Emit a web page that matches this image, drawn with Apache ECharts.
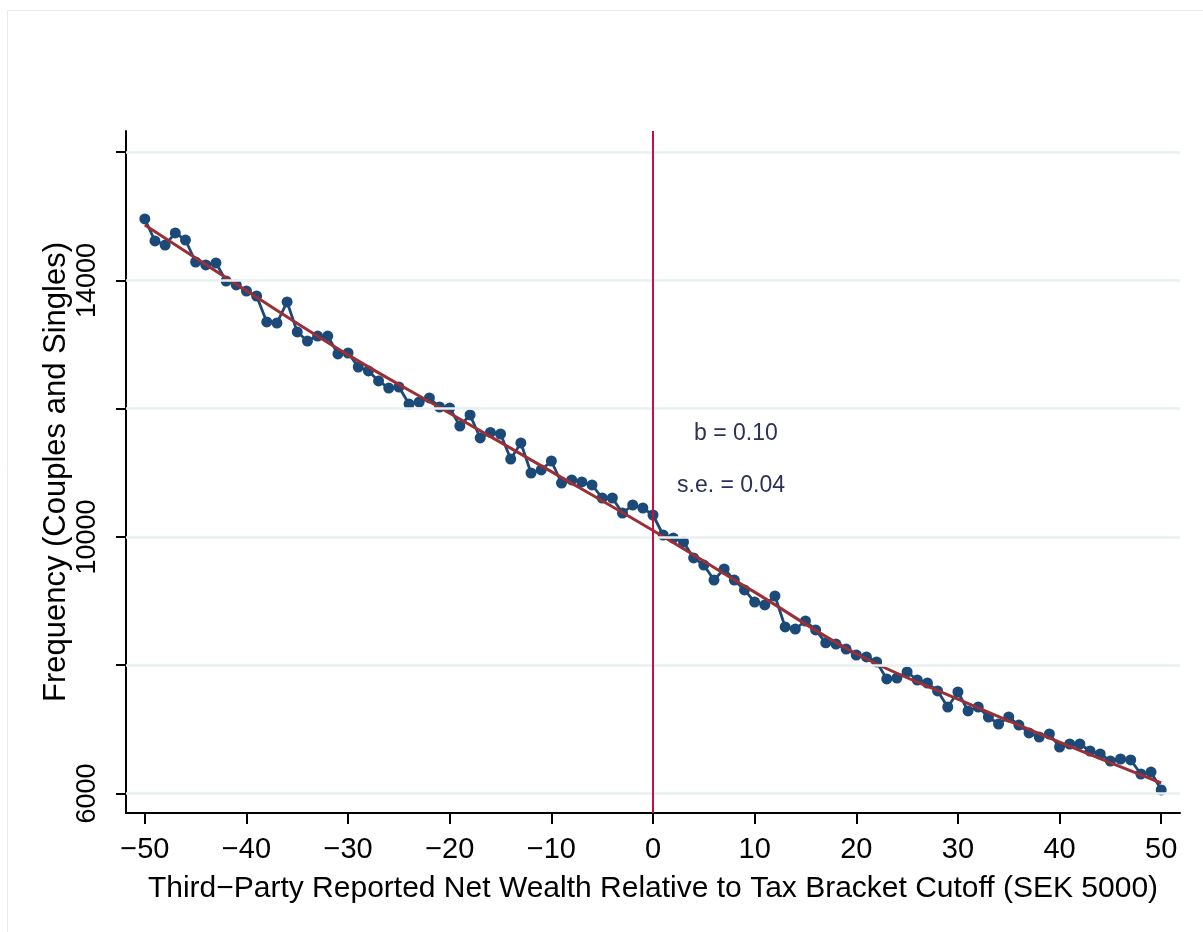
<!DOCTYPE html>
<html>
<head>
<meta charset="utf-8">
<script src="https://cdn.jsdelivr.net/npm/echarts@6/dist/echarts.min.js"></script>
<style>
html,body{margin:0;padding:0;background:#fff;}
#chart{width:1203px;height:932px;}
</style>
</head>
<body>
<div id="chart"></div>
<script>
// Bins: net wealth relative to cutoff (SEK 5000)
const bins = [];
for (let i = -50; i <= 50; i++) bins.push(i);

// Observed frequency per bin
const frequency = [
  14959, 14616, 14553, 14741, 14631, 14288, 14242, 14273, 13992, 13930,
  13836, 13758, 13353, 13337, 13665, 13197, 13056, 13134, 13134, 12854,
  12869, 12651, 12589, 12433, 12323, 12339, 12074, 12105, 12168, 12027,
  12011, 11731, 11903, 11544, 11630, 11606, 11216, 11466, 10998, 11045,
  11185, 10842, 10889, 10858, 10811, 10608, 10608, 10374, 10499, 10452,
  10343, 10031, 9984, 9922, 9673, 9563, 9329, 9501, 9329, 9174,
  8986, 8940, 9080, 8597, 8565, 8690, 8550, 8350, 8331, 8253,
  8160, 8129, 8051, 7786, 7801, 7895, 7770, 7723, 7599, 7349,
  7583, 7287, 7349, 7193, 7084, 7193, 7068, 6944, 6881, 6928,
  6725, 6772, 6772, 6663, 6616, 6507, 6538, 6523, 6304, 6335,
  6055
];

// Fitted counterfactual (read at every 10 bins)
const fitX = [-50, -40, -30, -20, -10, 0, 10, 20, 30, 40, 50];
const fitY = [14865, 13840, 12840, 11930, 11020, 10100, 9140, 8180, 7470, 6800, 6164];

const xTicks = [-50, -40, -30, -20, -10, 0, 10, 20, 30, 40, 50];
const yTicks = [6000, 8000, 10000, 12000, 14000, 16000];
const yLabels = [6000, 10000, 14000];

const stats = ['b = 0.10', 's.e. = 0.04'];

const chart = echarts.init(document.getElementById('chart'));
const font = '"Liberation Sans", Arial, Helvetica, sans-serif';

chart.setOption({
  animation: false,
  backgroundColor: '#ffffff',
  graphic: [
    { type: 'rect', shape: { x: 7.5, y: 10.5, width: 1400, height: 1000 },
      style: { fill: 'none', stroke: '#e6ecec', lineWidth: 1 }, silent: true, z: -10 },
    { type: 'text', x: 694, y: 434, style: { text: stats[0], font: '23px ' + font, fill: '#2b3157', verticalAlign: 'middle' } },
    { type: 'text', x: 677, y: 486, style: { text: stats[1], font: '23px ' + font, fill: '#2b3157', verticalAlign: 'middle' } }
  ],
  grid: { left: 126, right: 23, top: 131, bottom: 119, containLabel: false },
  xAxis: {
    type: 'value', min: -51.85, max: 51.85,
    name: 'Third\u2212Party Reported Net Wealth Relative to Tax Bracket Cutoff (SEK 5000)',
    nameLocation: 'middle', nameGap: 61, nameMoveOverlap: false,
    nameTextStyle: { fontFamily: font, fontSize: 30, color: '#000' },
    axisLine: { show: true, onZero: false, lineStyle: { color: '#000', width: 2 } },
    axisTick: { show: true, customValues: xTicks, length: 11, lineStyle: { color: '#000', width: 2 } },
    axisLabel: { customValues: xTicks, fontFamily: font, fontSize: 29, color: '#000', margin: 22,
      formatter: v => (v < 0 ? '\u2212' + Math.abs(v) : String(v)) },
    splitLine: { show: false }
  },
  yAxis: {
    type: 'value', min: 5696, max: 16331,
    name: 'Frequency (Couples and Singles)',
    nameLocation: 'middle', nameGap: 54, nameRotate: 90, nameMoveOverlap: false,
    nameTextStyle: { fontFamily: font, fontSize: 31, color: '#000' },
    axisLine: { show: true, onZero: false, lineStyle: { color: '#000', width: 2 } },
    axisTick: { show: true, customValues: yTicks, length: 10, lineStyle: { color: '#000', width: 2 } },
    axisLabel: { customValues: yLabels, fontFamily: font, fontSize: 27, color: '#000', rotate: 90, margin: 25,
      verticalAlign: 'bottom', align: 'center', formatter: v => String(v) },
    splitLine: { show: false }
  },
  series: [
    {
      type: 'line', name: 'grid', data: [], silent: true,
      markLine: {
        silent: true, symbol: 'none', label: { show: false },
        lineStyle: { color: '#e8f0f1', width: 2.5, type: 'solid' },
        data: yTicks.map(v => ({ yAxis: v }))
      },
      z: 1
    },
    {
      type: 'line', name: 'Frequency',
      data: bins.map((b, i) => [b, frequency[i]]),
      symbol: 'circle', symbolSize: 11,
      itemStyle: { color: '#1b4a78' },
      lineStyle: { color: '#1b4a78', width: 2.8 },
      z: 3
    },
    {
      type: 'line', name: 'Fit',
      data: fitX.map((x, i) => [x, fitY[i]]),
      smooth: 0.4, symbol: 'none',
      lineStyle: { color: '#9b2f35', width: 3 },
      z: 4
    },
    {
      type: 'line', name: 'cutoff', data: [], silent: true,
      markLine: {
        silent: true, symbol: 'none', label: { show: false },
        lineStyle: { color: '#c8103a', width: 2, type: 'solid' },
        data: [{ xAxis: 0 }]
      },
      z: 5
    }
  ]
});
</script>
</body>
</html>
